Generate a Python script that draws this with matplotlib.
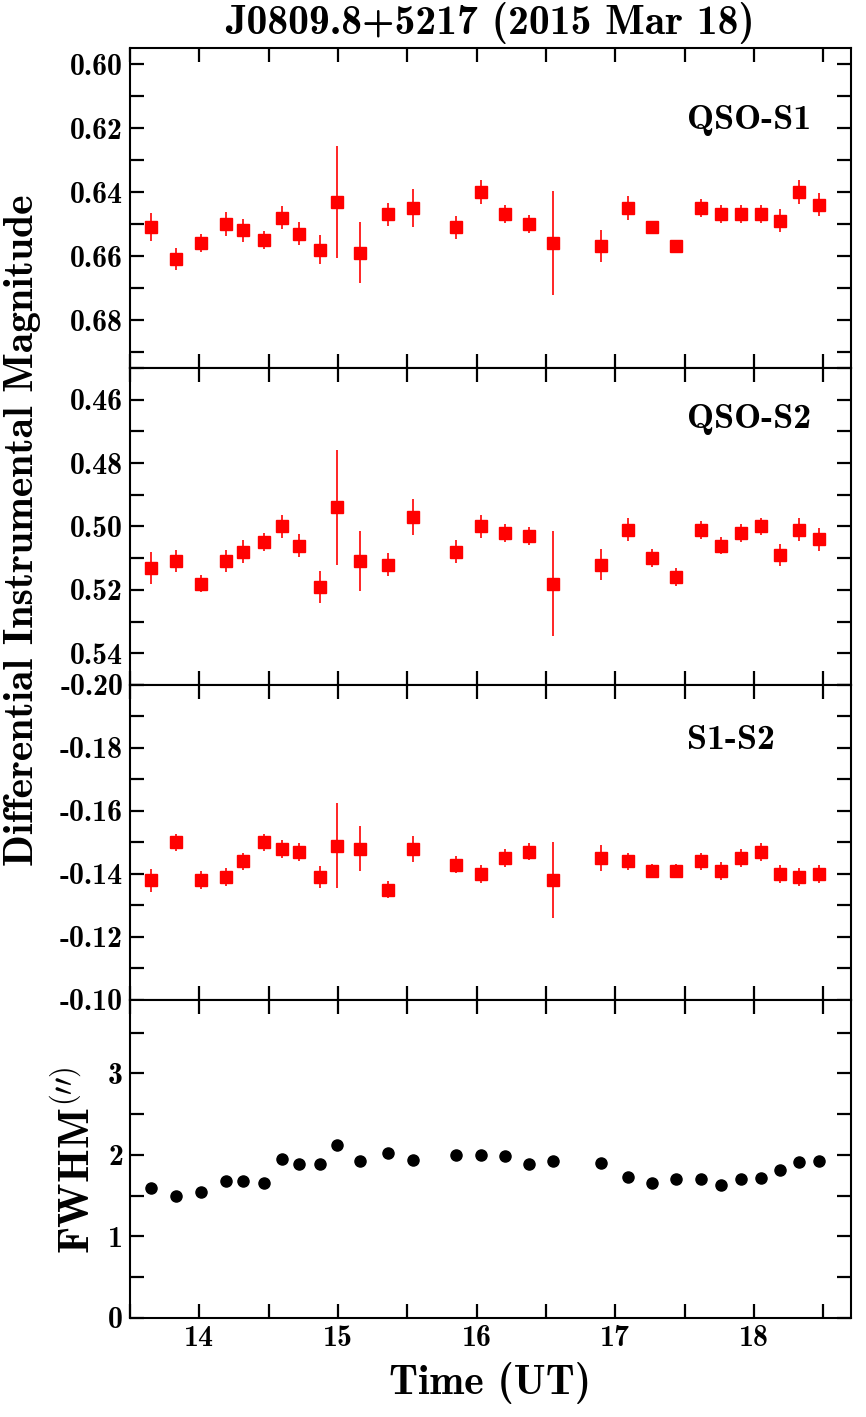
import numpy as np
import matplotlib.pyplot as plt
from matplotlib.ticker import MultipleLocator, FormatStrFormatter

plt.rcParams['font.family'] = 'cmb10'
plt.rcParams['axes.unicode_minus'] = False
plt.rcParams['mathtext.fontset'] = 'cm'

# observation times (UT hours)
time_ut = [13.654, 13.834, 14.014, 14.195, 14.317, 14.469, 14.594, 14.719, 14.870, 14.995,
           15.161, 15.361, 15.541, 15.849, 16.031, 16.205, 16.378, 16.553, 16.897, 17.089,
           17.265, 17.440, 17.620, 17.764, 17.906, 18.049, 18.188, 18.327, 18.469]

# QSO - S1
qso_s1 = [0.651, 0.661, 0.656, 0.650, 0.652, 0.655, 0.648, 0.653, 0.658, 0.643,
          0.659, 0.647, 0.645, 0.651, 0.640, 0.647, 0.650, 0.656, 0.657, 0.645,
          0.651, 0.657, 0.645, 0.647, 0.647, 0.647, 0.649, 0.640, 0.644]
qso_s1_err = [0.0044, 0.0035, 0.0028, 0.0036, 0.0036, 0.0028, 0.0036, 0.0036, 0.0045, 0.0175,
              0.0095, 0.0036, 0.0059, 0.0036, 0.0037, 0.0028, 0.0028, 0.0162, 0.0050, 0.0037,
              0.0020, 0.0021, 0.0028, 0.0028, 0.0028, 0.0028, 0.0036, 0.0036, 0.0036]

# QSO - S2
qso_s2 = [0.513, 0.511, 0.518, 0.511, 0.508, 0.505, 0.500, 0.506, 0.519, 0.494,
          0.511, 0.512, 0.497, 0.508, 0.500, 0.502, 0.503, 0.518, 0.512, 0.501,
          0.510, 0.516, 0.501, 0.506, 0.502, 0.500, 0.509, 0.501, 0.504]
qso_s2_err = [0.0050, 0.0035, 0.0028, 0.0035, 0.0036, 0.0028, 0.0037, 0.0036, 0.0050, 0.0181,
              0.0095, 0.0036, 0.0058, 0.0036, 0.0037, 0.0028, 0.0028, 0.0166, 0.0050, 0.0037,
              0.0028, 0.0028, 0.0028, 0.0027, 0.0028, 0.0028, 0.0036, 0.0036, 0.0036]

# S1 - S2
s1_s2 = [-0.138, -0.150, -0.138, -0.139, -0.144, -0.150, -0.148, -0.147, -0.139, -0.149,
         -0.148, -0.135, -0.148, -0.143, -0.140, -0.145, -0.147, -0.138, -0.145, -0.144,
         -0.141, -0.141, -0.144, -0.141, -0.145, -0.147, -0.140, -0.139, -0.140]
s1_s2_err = [0.0036, 0.0028, 0.0028, 0.0028, 0.0028, 0.0028, 0.0028, 0.0028, 0.0036, 0.0134,
             0.0071, 0.0027, 0.0042, 0.0027, 0.0028, 0.0028, 0.0027, 0.0121, 0.0042, 0.0028,
             0.0022, 0.0022, 0.0028, 0.0028, 0.0028, 0.0028, 0.0028, 0.0029, 0.0028]

# seeing
fwhm = [1.60, 1.50, 1.55, 1.68, 1.68, 1.65, 1.95, 1.89, 1.89, 2.12,
        1.92, 2.02, 1.94, 2.00, 2.00, 1.99, 1.89, 1.92, 1.90, 1.73,
        1.66, 1.71, 1.71, 1.63, 1.71, 1.72, 1.81, 1.91, 1.93]

mag_ticks = [[0.60, 0.62, 0.64, 0.66, 0.68],
             [0.46, 0.48, 0.50, 0.52, 0.54],
             [-0.20, -0.18, -0.16, -0.14, -0.12, -0.10]]
mag_limits = [(0.695, 0.595), (0.55, 0.45), (-0.10, -0.20)]
panel_names = ['QSO-S1', 'QSO-S2', 'S1-S2']
name_y = [0.775, 0.836, 0.825]

fig = plt.figure(figsize=(8.66, 14.17), dpi=100)
left, width = 0.1501, 0.8326
bottoms = [0.7403, 0.5166, 0.2943, 0.0699]
heights = [0.2258, 0.2237, 0.2223, 0.2244]
axes = [fig.add_axes([left, b, width, h]) for b, h in zip(bottoms, heights)]

series = [(qso_s1, qso_s1_err), (qso_s2, qso_s2_err), (s1_s2, s1_s2_err)]
for i, (vals, errs) in enumerate(series):
    ax = axes[i]
    ax.errorbar(time_ut, vals, yerr=errs, fmt='s', color='red', ms=8.6,
                mec='red', elinewidth=1.2, capsize=0)
    ax.set_ylim(*mag_limits[i])
    ax.set_yticks(mag_ticks[i])
    ax.yaxis.set_minor_locator(MultipleLocator(0.01))
    ax.yaxis.set_major_formatter(FormatStrFormatter('%.2f'))
    ax.text(0.772, name_y[i], panel_names[i], transform=ax.transAxes,
            fontsize=26, va='center')

ax4 = axes[3]
ax4.plot(time_ut, fwhm, 'o', color='black', ms=8)
ax4.set_ylim(0, 3.9)
ax4.set_yticks([0, 1, 2, 3])
ax4.yaxis.set_minor_locator(MultipleLocator(0.5))

for i, ax in enumerate(axes):
    ax.set_xlim(13.5, 18.7)
    ax.xaxis.set_major_locator(MultipleLocator(1))
    ax.xaxis.set_minor_locator(MultipleLocator(0.5))
    ax.tick_params(which='both', direction='in', top=True, right=True,
                   length=10, width=1.6, labelsize=21.5, pad=5)
    if i < 3:
        ax.tick_params(labelbottom=False)
    for s in ax.spines.values():
        s.set_linewidth(1.5)

fig.text(0.566, 0.984, 'J0809.8+5217 (2015 Mar 18)', ha='center', va='center', fontsize=30)
fig.text(0.026, 0.626, 'Differential Instrumental Magnitude', rotation=90,
         ha='center', va='center', fontsize=30)
fig.text(0.089, 0.181, r'FWHM$^{(\prime\prime)}$', rotation=90,
         ha='center', va='center', fontsize=31)
fig.text(0.566, 0.024, 'Time (UT)', ha='center', va='center', fontsize=30)

fig.savefig('out.png', dpi=100)
